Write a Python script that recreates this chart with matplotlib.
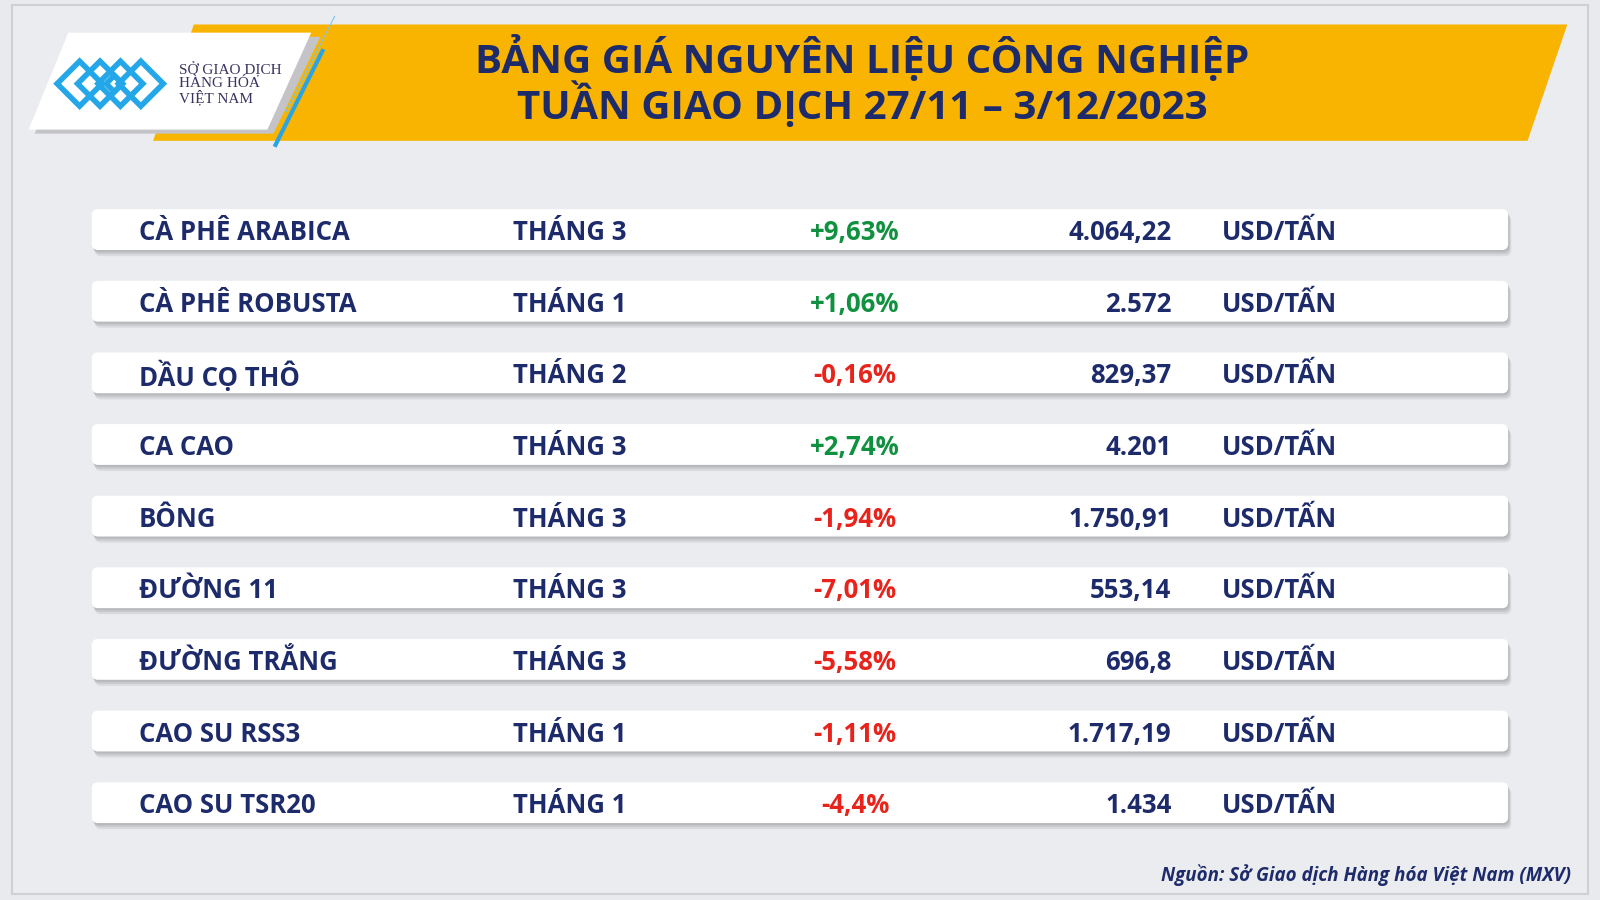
import matplotlib.pyplot as plt
from matplotlib.patches import Polygon, FancyBboxPatch

names = ["CÀ PHÊ ARABICA", "CÀ PHÊ ROBUSTA", "DẦU CỌ THÔ", "CA CAO", "BÔNG",
         "ĐƯỜNG 11", "ĐƯỜNG TRẮNG", "CAO SU RSS3", "CAO SU TSR20"]
months = ["THÁNG 3", "THÁNG 1", "THÁNG 2", "THÁNG 3", "THÁNG 3",
          "THÁNG 3", "THÁNG 3", "THÁNG 1", "THÁNG 1"]
changes = [9.63, 1.06, -0.16, 2.74, -1.94, -7.01, -5.58, -1.11, -4.4]
prices = ["4.064,22", "2.572", "829,37", "4.201", "1.750,91",
          "553,14", "696,8", "1.717,19", "1.434"]
unit = "USD/TẤN"

navy = "#1d2b6b"
plt.rcParams['font.family'] = ['Open Sans', 'DejaVu Sans']

fig = plt.figure(figsize=(16, 9), dpi=100)
ax = fig.add_axes([0, 0, 1, 1])
ax.set_xlim(0, 1568)
ax.set_ylim(882, 0)
ax.set_axis_off()
fig.patch.set_facecolor("#e9eaed")

# frame
ax.add_patch(Polygon([(12, 5), (1556, 5), (1556, 876), (12, 876)], closed=True,
                     facecolor="#ebecef", edgecolor="#d0d0d4", lw=1.5))

# banner
ax.add_patch(Polygon([(190, 24), (1536, 24), (1497, 138), (150, 138)], facecolor="#f8b400"))
ax.add_patch(Polygon([(34, 131), (72, 36), (314, 36), (268, 131)], facecolor="#c4c4c8", zorder=2))
ax.add_patch(Polygon([(28, 127), (67, 32), (305, 32), (262, 127)], facecolor="white", zorder=3))
ax.plot([316, 270], [50, 142], color="#2aa4e8", lw=3, zorder=4)
ax.plot([328, 280], [16, 110], color="#7fc6ee", lw=0.8, zorder=4)
for cx, cy, s in [(78, 82, 22), (98, 82, 22), (118, 82, 22), (138, 82, 22), (112, 82, 8)]:
    ax.add_patch(Polygon([(cx - s, cy), (cx, cy - s), (cx + s, cy), (cx, cy + s)],
                         facecolor="none", edgecolor="#23a7e8", lw=4, zorder=5))
ax.text(175, 82, "SỞ GIAO DỊCH\nHÀNG HÓA\nVIỆT NAM", fontsize=11, color="#3a3360",
        va="center", ha="left", linespacing=0.95, zorder=5, family="Liberation Serif")

ax.text(845, 57, "BẢNG GIÁ NGUYÊN LIỆU CÔNG NGHIỆP", fontsize=29, weight="bold",
        color=navy, ha="center", va="center", zorder=5)
ax.text(845, 103, "TUẦN GIAO DỊCH 27/11 – 3/12/2023", fontsize=29, weight="bold",
        color=navy, ha="center", va="center", zorder=5)

# rows
for i in range(len(names)):
    y = 228 + i * 70.2
    for off, a in [(6, 0.25), (4, 0.35), (2, 0.5)]:
        ax.add_patch(FancyBboxPatch((90 + off / 2, y - 23 + off), 1388, 40,
                                    boxstyle="round,pad=0,rounding_size=6",
                                    facecolor="#a8a9ad", alpha=a, edgecolor="none", zorder=2))
    ax.add_patch(FancyBboxPatch((90, y - 23), 1388, 40, boxstyle="round,pad=0,rounding_size=6",
                                facecolor="white", edgecolor="none", zorder=3))
    kw = dict(fontsize=18.5, weight="bold", va="center", zorder=5)
    ax.text(136, y, names[i], color=navy, ha="left", **kw)
    ax.text(503, y, months[i], color=navy, ha="left", **kw)
    c = changes[i]
    s = f"{c:+.2f}".rstrip("0").replace(".", ",") + "%"
    ax.text(838, y, s, color="#10913f" if c > 0 else "#e8231b", ha="center", **kw)
    ax.text(1148, y, prices[i], color=navy, ha="right", **kw)
    ax.text(1197, y, unit, color=navy, ha="left", **kw)

ax.text(1540, 858, "Nguồn: Sở Giao dịch Hàng hóa Việt Nam (MXV)", fontsize=13.5,
        weight="bold", style="italic", color=navy, ha="right", va="center")

fig.savefig("out.png", dpi=100)
